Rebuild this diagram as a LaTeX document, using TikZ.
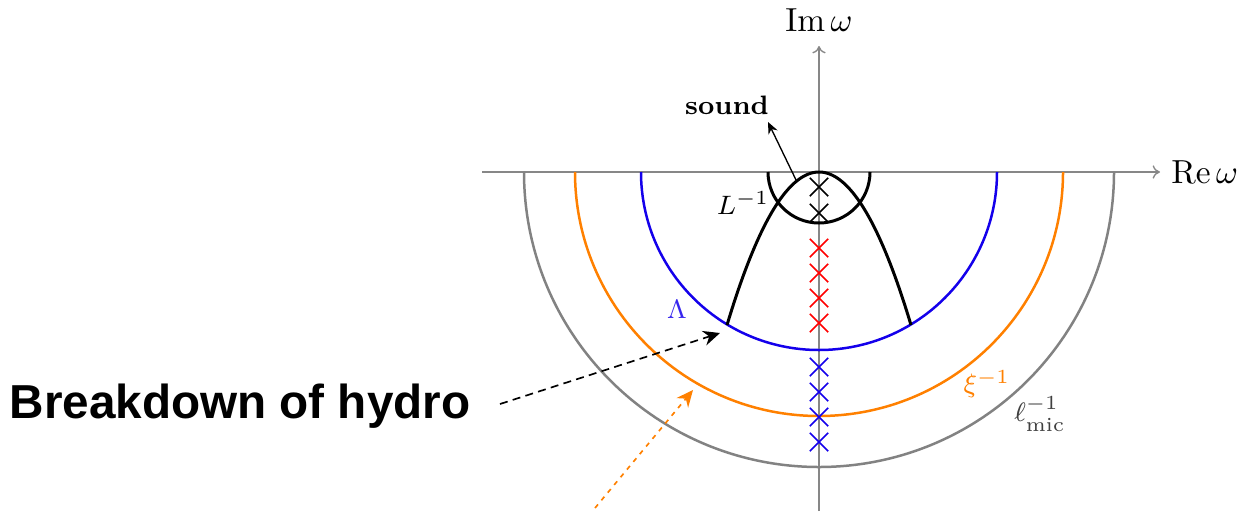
\documentclass[tikz,border=0pt]{standalone}
\usepackage{fontspec}
\newfontfamily\hfont{Liberation Sans}
\usetikzlibrary{arrows.meta,shapes.misc}
\definecolor{myorange}{RGB}{255,128,0}
\definecolor{myblue}{RGB}{20,0,235}
\definecolor{mygray}{RGB}{130,130,130}
\definecolor{axisgray}{RGB}{135,135,135}
\begin{document}
\begin{tikzpicture}[x=0.3pt,y=0.3pt,
  axis/.style={draw=axisgray,line width=0.4pt,-{To[length=2.2pt,width=4pt]}},
  ring/.style={line width=0.75pt},
  thickcurve/.style={line width=0.9pt,black},
  xm/.style={draw,cross out,minimum size=5pt,inner sep=0pt,line width=0.5pt},
  lab/.style={font=\footnotesize,inner sep=1pt},
  tip/.style={-{Stealth[length=5pt,width=4.5pt]}}]
\useasboundingbox (-819,172) rectangle (421,-339);
% axes
\coordinate (xl) at (-337,0);
\coordinate (xr) at (341,0);
\coordinate (yb) at (0,-339);
\coordinate (yt) at (0,126);
\draw[axis] (xl) -- (xr);
\draw[axis] (yb) -- (yt);
\node[anchor=west,inner sep=2pt] (re) at (345,0) {$\mathrm{Re}\,\omega$};
\node[anchor=south,inner sep=2pt] (im) at (0,133) {$\mathrm{Im}\,\omega$};
% rings
\draw[ring,mygray] (-295,0) arc (180:360:295);
\draw[ring,myorange] (-244,0) arc (180:360:244);
\draw[ring,myblue] (-178,0) arc (180:360:178);
\draw[thickcurve] (-51,0) arc (180:360:51);
% parabola
\coordinate (pl) at (-92,-153);
\coordinate (pr) at (92,-153);
\draw[thickcurve] plot[domain=-92:92,samples=80] (\x,{-0.01808*\x*\x});
% crosses
\foreach \y/\n in {-15/k1,-41/k2} \node[xm,black] (\n) at (0,\y) {};
\foreach \y/\n in {-76/r1,-101/r2,-126/r3,-151/r4} \node[xm,red] (\n) at (0,\y) {};
\foreach \y/\n in {-195/b1,-220/b2,-245/b3,-270/b4} \node[xm,myblue] (\n) at (0,\y) {};
% labels
\node[lab] (sound) at (-92,67) {\textbf{sound}};
\coordinate (sfrom) at (-22,-10);
\coordinate (sto) at (-51,50);
\draw[line width=0.4pt,-{Stealth[length=3.5pt,width=3pt]}] (sfrom) -- (sto);
\node[lab] (L) at (-76,-31) {$L^{-1}$};
\node[lab,text=myblue!85!white] (Lam) at (-142,-137) {$\Lambda$};
\node[lab,text=myorange] (xi) at (168,-212) {$\xi^{-1}$};
\node[lab,text=black!75] (lmic) at (221,-242) {$\ell_{\mathrm{mic}}^{-1}$};
\node[font=\hfont\bfseries\fontsize{14.3}{17}\selectfont,inner sep=0pt] (bd) at (-579,-234) {Breakdown of hydro};
% pointer arrows
\coordinate (bdfrom) at (-319,-232);
\coordinate (bdto) at (-99,-161);
\draw[tip,line width=0.5pt,dash pattern=on 2.4pt off 1.6pt] (bdfrom) -- (bdto);
\coordinate (ofrom) at (-224,-336);
\coordinate (oto) at (-126,-218);
\draw[tip,myorange,line width=0.5pt,dash pattern=on 1.4pt off 1.6pt] (ofrom) -- (oto);
\end{tikzpicture}
\end{document}
